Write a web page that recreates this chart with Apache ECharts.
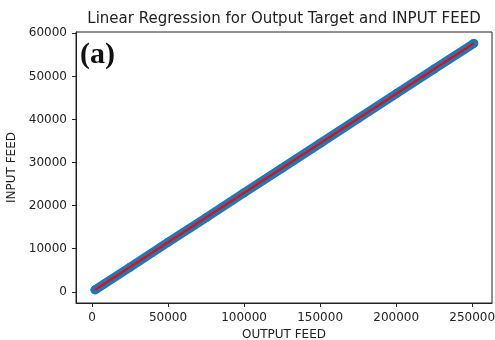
<!DOCTYPE html>
<html>
<head>
<meta charset="utf-8">
<script src="https://cdn.jsdelivr.net/npm/echarts@6/dist/echarts.min.js"></script>
<style>
  html, body { margin: 0; padding: 0; background: #fff; }
  #chart { width: 495px; height: 340px; }
</style>
</head>
<body>
<div id="chart"></div>
<script>
const outputFeed = [2000, 25000, 50000, 75000, 100000, 125000, 150000, 175000, 200000, 225000, 251000]
const inputFeed = [450, 5700, 11500, 17200, 23000, 28700, 34450, 40200, 45950, 51700, 57650]
// fitted regression line end points
const fitX = [2000, 251000]
const fitY = [450, 57650]
const xTicks = [0, 50000, 100000, 150000, 200000, 250000]
const yTicks = [0, 10000, 20000, 30000, 40000, 50000, 60000]

const font = 'DejaVu Sans'
const chart = echarts.init(document.getElementById('chart'))

const axisCommon = {
  axisLine: { show: true, onZero: false, lineStyle: { color: '#222', width: 1 } },
  axisTick: { show: true, length: 4, lineStyle: { color: '#222' } },
  axisLabel: { color: '#222', fontFamily: font, fontSize: 12, formatter: v => String(v) },
  splitLine: { show: false },
  nameTextStyle: { color: '#222', fontFamily: font, fontSize: 12 },
}

chart.setOption({
  animation: false,
  title: {
    text: 'Linear Regression for Output Target and INPUT FEED',
    left: 279,
    textAlign: 'center',
    top: 7,
    textStyle: { fontFamily: font, fontSize: 15, fontWeight: 'normal', color: '#222' },
  },
  grid: {
    left: 76, top: 32, right: 3, bottom: 37,
    outerBoundsMode: 'none', containLabel: false,
    show: true, borderColor: '#222', borderWidth: 1,
  },
  xAxis: {
    ...axisCommon,
    type: 'value',
    min: -10500,
    max: 263000,
    name: 'OUTPUT FEED',
    nameLocation: 'middle',
    nameGap: 26,
    axisTick: { ...axisCommon.axisTick, customValues: xTicks },
    axisLabel: { ...axisCommon.axisLabel, customValues: xTicks, margin: 9 },
  },
  yAxis: {
    ...axisCommon,
    type: 'value',
    min: -2600,
    max: 60300,
    name: 'INPUT FEED',
    nameLocation: 'middle',
    nameGap: 50,
    axisTick: { ...axisCommon.axisTick, customValues: yTicks },
    axisLabel: { ...axisCommon.axisLabel, customValues: yTicks, margin: 9 },
  },
  graphic: [{
    type: 'text',
    left: 80,
    top: 40,
    style: { text: '(a)', font: 'bold 30px "Liberation Serif"', fill: '#111' },
  }],
  series: [
    {
      type: 'line',
      data: outputFeed.map((x, i) => [x, inputFeed[i]]),
      symbol: 'circle',
      symbolSize: 9,
      showSymbol: true,
      itemStyle: { color: '#1f77b4' },
      lineStyle: { color: '#1f77b4', width: 9, cap: 'round', join: 'round' },
      z: 2,
    },
    {
      type: 'line',
      data: fitX.map((x, i) => [x, fitY[i]]),
      symbol: 'none',
      lineStyle: { color: '#ff0000', width: 2 },
      z: 3,
    },
  ],
})
</script>
</body>
</html>
